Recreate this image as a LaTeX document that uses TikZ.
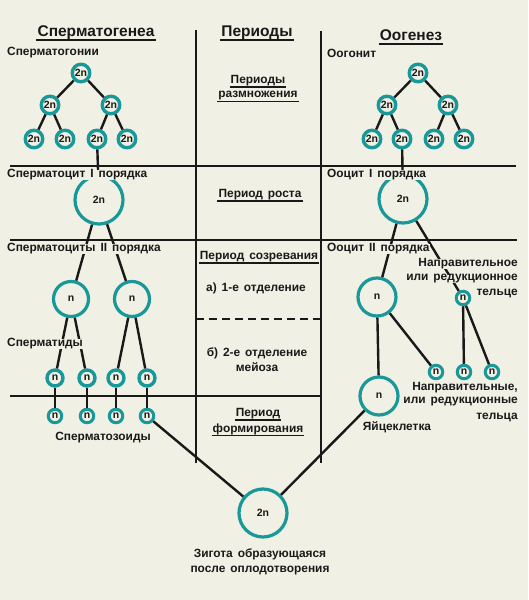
\documentclass[tikz,border=0pt]{standalone}
\usepackage{fontspec}
\setmainfont[WordSpace=1.5]{Liberation Sans}
\definecolor{bg}{RGB}{240,240,228}
\definecolor{tealc}{RGB}{24,152,152}
\definecolor{ink}{RGB}{25,25,25}
\begin{document}
\begin{tikzpicture}[x=1pt,y=-1pt,
 lab/.style={font=\fontsize{11.9}{14.5}\selectfont\bfseries, text=ink, inner xsep=1pt, inner ysep=0pt, fill=bg},
 ttl/.style={font=\fontsize{15.5}{18}\selectfont\bfseries, text=ink, inner sep=1pt},
 uline/.style={line width=1.8pt, draw=ink},
 divl/.style={line width=1.6pt, draw=ink},
 conn/.style={line width=2.4pt, draw=ink},
 cell/.style={circle, draw=tealc, fill=bg, text=ink, inner sep=0pt, font=\fontsize{10.5}{12}\selectfont\bfseries},
 ctwo/.style={cell, line width=3.4pt, minimum size=17.5pt},
 cbig/.style={cell, line width=3.2pt, minimum size=48pt},
 cmid/.style={cell, line width=3.2pt, minimum size=35pt},
 cmidb/.style={cell, line width=3.2pt, minimum size=38pt},
 csm/.style={cell, line width=3.4pt, minimum size=16pt},
 ctiny/.style={cell, line width=3pt, minimum size=13.5pt},
]
\fill[bg] (0,0) rectangle (528,600);
\useasboundingbox (0,0) rectangle (528,600);

% titles
\node[ttl] (tS) at (96,33) {Сперматогенеа};
\node[ttl] (tP) at (257,33) {Периоды};
\node[ttl] (tO) at (411,35) {Оогенез};
\foreach \t in {tS,tP,tO}{\draw[uline] ([yshift=-3.5pt]\t.base west) -- ([yshift=-3.5pt]\t.base east);}

% dividers
\draw[divl] (196,30) -- (196,463);
\draw[divl] (321,31) -- (321,463);
\draw[divl] (10,166) -- (516,166);
\draw[divl] (10,240) -- (517,240);
\draw[divl, dash pattern=on 8pt off 5pt] (196,319) -- (321,319);
\draw[divl] (10,396) -- (321,396);

% spermatogenesis cells
\node[ctwo] (g1) at (81,73) {2n};
\node[ctwo] (g2a) at (50,105) {2n};
\node[ctwo] (g2b) at (111,105) {2n};
\node[ctwo] (g3a) at (34,139) {2n};
\node[ctwo] (g3b) at (65,139) {2n};
\node[ctwo] (g3c) at (97,139) {2n};
\node[ctwo] (g3d) at (127,139) {2n};
\node[cbig] (s1) at (99,200) {2n};
\node[cmid] (s2a) at (71,299) {n};
\node[cmid] (s2b) at (132,299) {n};
\node[csm] (t1) at (55,378) {n};
\node[csm] (t2) at (87,378) {n};
\node[csm] (t3) at (116,378) {n};
\node[csm] (t4) at (147,378) {n};
\node[ctiny] (z1) at (55,416) {n};
\node[ctiny] (z2) at (87,416) {n};
\node[ctiny] (z3) at (116,416) {n};
\node[ctiny] (z4) at (147,416) {n};

% oogenesis cells
\node[ctwo] (o1) at (418,73) {2n};
\node[ctwo] (o2a) at (387,105) {2n};
\node[ctwo] (o2b) at (448,105) {2n};
\node[ctwo] (o3a) at (372,139) {2n};
\node[ctwo] (o3b) at (402,139) {2n};
\node[ctwo] (o3c) at (434,139) {2n};
\node[ctwo] (o3d) at (464,139) {2n};
\node[cbig] (oc1) at (403,199) {2n};
\node[cmidb] (oc2) at (377,297) {n};
\node[ctiny] (p1) at (463,298) {n};
\node[ctiny] (p2a) at (436,372) {n};
\node[ctiny] (p2b) at (464,372) {n};
\node[ctiny] (p2c) at (492,372) {n};
\node[cmidb] (egg) at (379,396) {n};
\node[cbig] (zyg) at (263,513) {2n};

% connectors
\draw[conn] (g1) -- (g2a); \draw[conn] (g1) -- (g2b);
\draw[conn] (g2a) -- (g3a); \draw[conn] (g2a) -- (g3b);
\draw[conn] (g2b) -- (g3c); \draw[conn] (g2b) -- (g3d);
\draw[conn] (g3c) -- (s1);
\draw[conn] (s1) -- (s2a); \draw[conn] (s1) -- (s2b);
\draw[conn] (s2a) -- (t1); \draw[conn] (s2a) -- (t2);
\draw[conn] (s2b) -- (t3); \draw[conn] (s2b) -- (t4);
\draw[conn] (t1) -- (z1); \draw[conn] (t2) -- (z2);
\draw[conn] (t3) -- (z3); \draw[conn] (t4) -- (z4);
\draw[conn] (z4) -- (zyg);
\draw[conn] (o1) -- (o2a); \draw[conn] (o1) -- (o2b);
\draw[conn] (o2a) -- (o3a); \draw[conn] (o2a) -- (o3b);
\draw[conn] (o2b) -- (o3c); \draw[conn] (o2b) -- (o3d);
\draw[conn] (o3b) -- (oc1);
\draw[conn] (oc1) -- (oc2); \draw[conn] (oc1) -- (p1);
\draw[conn] (oc2) -- (egg); \draw[conn] (oc2) -- (p2a);
\draw[conn] (p1) -- (p2b); \draw[conn] (p1) -- (p2c);
\draw[conn] (egg) -- (zyg);

% left labels
\node[lab, anchor=west] (l1) at (6,53) {Сперматогонии};
\node[lab, anchor=west] (l2) at (6,175) {Сперматоцит I порядка};
\node[lab, anchor=west] (l3) at (6,249) {Сперматоциты II порядка};
\node[lab, anchor=west] (l4) at (6,344) {Сперматиды};
\node[lab] (l5) at (103,438) {Сперматозоиды};

% right labels
\node[lab, anchor=west] (r1) at (326,53) {Оогонит};
\node[lab, anchor=west] (r2) at (326,175) {Ооцит I порядка};
\node[lab, anchor=west] (r3) at (326,249) {Ооцит II порядка};
\node[lab, anchor=east] (r4a) at (519,264) {Направительное};
\node[lab, anchor=east] (r4b) at (519,279) {или редукционное};
\node[lab, anchor=east] (r4c) at (519,293) {тельце};
\node[lab, anchor=east] (r5a) at (519,388) {Направительные,};
\node[lab, anchor=east] (r5b) at (519,402) {или редукционные};
\node[lab, anchor=east] (r5c) at (519,417) {тельца};
\node[lab] (r6) at (397,427) {Яйцеклетка};
\node[lab, align=center] (zl) at (260,562) {Зигота образующаяся\\после оплодотворения};

% middle labels
\node[lab] (m1) at (258,81) {Периоды};
\node[lab] (m2) at (258,96) {размножения};
\node[lab] (m3) at (260,195) {Период роста};
\node[lab] (m4) at (259,257) {Период созревания};
\node[lab] (m5) at (256,288) {а) 1-е отделение};
\node[lab] (m6) at (257,353) {б) 2-е отделение};
\node[lab] (m7) at (257,367) {мейоза};
\node[lab] (m8) at (258,414) {Период};
\node[lab] (m9) at (258,429) {формирования};
\foreach \t in {m1,m2,m3,m4,m8,m9}{\draw[uline] ([yshift=-3.5pt]\t.base west) -- ([yshift=-3.5pt]\t.base east);}
\end{tikzpicture}
\end{document}
